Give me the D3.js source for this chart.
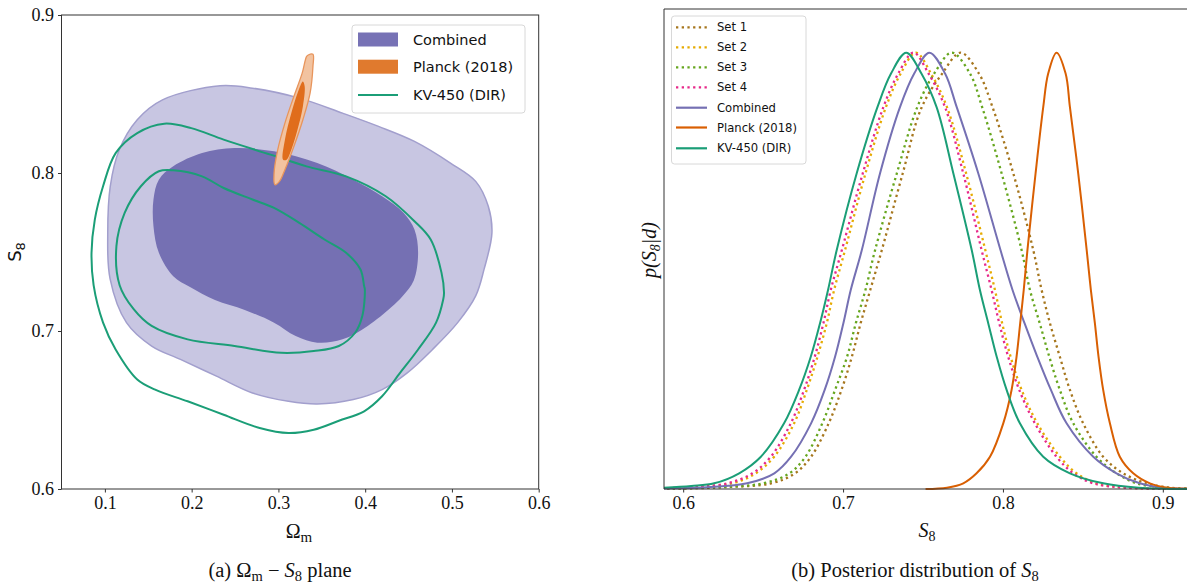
<!DOCTYPE html>
<html>
<head>
<meta charset="utf-8">
<script src="https://cdn.jsdelivr.net/npm/d3@7"></script>
<style>
  body { margin: 0; background: #fff; }
  svg { display: block; }
  .tick text { font-family: "Liberation Serif", "DejaVu Serif", serif; font-size: 18px; fill: #111; }
  .tick line { stroke: #333; }
  .leg { font-family: "DejaVu Sans", sans-serif; fill: #111; }
  .serif { font-family: "Liberation Serif", "DejaVu Serif", serif; fill: #111; }
</style>
</head>
<body>
<svg id="viz" width="1187" height="585"></svg>
<script>
// ---- panel (a): contours in the Omega_m - S8 plane, [Omega_m, S8] ----
var combined_outer = [[0.2328,0.8552],[0.1664,0.8463],[0.1373,0.8337],[0.1166,0.8147],[0.1062,0.7916],
  [0.1033,0.7621],[0.1060,0.7330],[0.1249,0.7053],[0.1539,0.6905],[0.1871,0.6820],
  [0.2286,0.6714],[0.2701,0.6608],[0.3116,0.6555],[0.3448,0.6538],[0.3863,0.6566],[0.4195,0.6629],
  [0.4485,0.6735],[0.4776,0.6883],[0.5066,0.7053],[0.5274,0.7222],[0.5370,0.7390],[0.5461,0.7621],
  [0.5419,0.7789],[0.5274,0.7947],[0.4983,0.8063],[0.4568,0.8200],[0.4154,0.8295],[0.3739,0.8379],
  [0.3241,0.8474],[0.2701,0.8537]];
var combined_inner = [[0.2494,0.8158],[0.2120,0.8126],[0.1788,0.8042],[0.1622,0.7958],[0.1560,0.7832],
  [0.1560,0.7663],[0.1622,0.7495],[0.1788,0.7347],[0.1981,0.7278],[0.2269,0.7196],[0.2612,0.7133],
  [0.2950,0.7053],[0.3199,0.6968],[0.3448,0.6926],[0.3739,0.6947],[0.4029,0.7032],[0.4300,0.7150],
  [0.4430,0.7220],[0.4560,0.7320],[0.4610,0.7495],[0.4568,0.7642],[0.4444,0.7747],[0.4195,0.7853],
  [0.3863,0.7958],[0.3448,0.8063],[0.2950,0.8137]];
var kv_outer = [[0.1685,0.8312],[0.1373,0.8253],[0.1124,0.8126],[0.0979,0.7916],[0.0884,0.7705],
  [0.0846,0.7495],[0.0870,0.7290],[0.0979,0.7053],[0.1124,0.6883],[0.1373,0.6693],
  [0.1580,0.6629],[0.1954,0.6555],[0.2369,0.6470],[0.2784,0.6386],[0.3116,0.6354],[0.3407,0.6375],
  [0.3697,0.6432],[0.3988,0.6492],[0.4195,0.6587],[0.4402,0.6735],[0.4610,0.6883],[0.4817,0.7053],
  [0.4900,0.7201],[0.4909,0.7242],[0.4880,0.7368],[0.4755,0.7579],[0.4568,0.7695],[0.4237,0.7853],
  [0.3780,0.7979],[0.3324,0.8042],[0.2909,0.8116],[0.2369,0.8211],[0.1996,0.8284]];
var kv_inner = [[0.1788,0.8017],[0.1622,0.8011],[0.1415,0.7916],[0.1228,0.7747],[0.1133,0.7537],
  [0.1170,0.7290],[0.1332,0.7138],[0.1539,0.7032],[0.1954,0.6947],[0.2494,0.6905],
  [0.3033,0.6862],[0.3407,0.6873],[0.3697,0.6905],[0.3884,0.6989],[0.3967,0.7095],[0.3996,0.7265],
  [0.3988,0.7284],[0.3946,0.7389],[0.3780,0.7495],[0.3531,0.7579],[0.3241,0.7684],[0.2950,0.7779],
  [0.2701,0.7832],[0.2369,0.7905],[0.2120,0.7979]];
var planck_outer = [[0.2959,0.7926],[0.2950,0.8000],[0.2992,0.8147],[0.3075,0.8316],[0.3178,0.8484],
  [0.3274,0.8632],[0.3324,0.8737],[0.3344,0.8747],[0.3398,0.8752],[0.3398,0.8674],[0.3365,0.8505],
  [0.3282,0.8337],[0.3178,0.8168],[0.3075,0.8021],[0.3012,0.7947]];
var planck_inner = [[0.3054,0.8084],[0.3075,0.8210],[0.3149,0.8379],[0.3220,0.8505],[0.3282,0.8579],
  [0.3303,0.8547],[0.3282,0.8421],[0.3220,0.8274],[0.3149,0.8147],[0.3095,0.8084]];

// ---- panel (b): posterior of S8 (peak normalised to 1), [S8, p] ----
var set1 = [[0.590,0.0005],[0.625,0.004],[0.655,0.013],[0.670,0.036],[0.680,0.074],[0.691,0.1505],
  [0.699,0.227],[0.7055,0.303],[0.711,0.380],[0.717,0.456],[0.7242,0.547],[0.7373,0.723],[0.7492,0.875],
  [0.7620,0.952],[0.7735,1.0],[0.7850,0.952],[0.7935,0.875],[0.8065,0.723],[0.8190,0.547],[0.8242,0.456],
  [0.8294,0.380],[0.8356,0.303],[0.8419,0.227],[0.8502,0.1505],[0.8627,0.074],[0.8752,0.036],
  [0.8898,0.013],[0.905,0.003],[0.917,0.001]];
var set2 = [[0.590,0.0015],[0.610,0.005],[0.6308,0.013],[0.6454,0.036],[0.6569,0.074],[0.6694,0.1505],
  [0.6773,0.227],[0.6840,0.303],[0.6898,0.380],[0.6944,0.456],[0.7012,0.547],[0.7140,0.723],[0.7268,0.875],
  [0.7360,0.952],[0.7455,1.0],[0.7550,0.952],[0.7650,0.875],[0.7770,0.723],[0.7890,0.547],[0.7950,0.456],
  [0.7995,0.380],[0.8048,0.303],[0.8117,0.227],[0.8215,0.1505],[0.8356,0.074],[0.8460,0.036],
  [0.8585,0.013],[0.879,0.003],[0.917,0.0]];
var set3 = [[0.590,0.0008],[0.620,0.004],[0.650,0.013],[0.6665,0.036],[0.6765,0.074],[0.6870,0.1505],
  [0.6950,0.227],[0.7025,0.303],[0.7080,0.380],[0.7140,0.456],[0.7200,0.547],[0.7336,0.723],[0.7464,0.875],
  [0.7570,0.952],[0.7680,1.0],[0.7794,0.952],[0.7870,0.875],[0.7992,0.723],[0.8117,0.547],[0.8169,0.456],
  [0.8230,0.380],[0.8290,0.303],[0.8356,0.227],[0.8440,0.1505],[0.8585,0.074],[0.8710,0.036],
  [0.8835,0.013],[0.900,0.003],[0.917,0.0005]];
var set4 = [[0.590,0.002],[0.607,0.005],[0.6277,0.013],[0.6433,0.036],[0.6548,0.074],[0.6673,0.1505],
  [0.6756,0.227],[0.6823,0.303],[0.6877,0.380],[0.6923,0.456],[0.6992,0.547],[0.7123,0.723],[0.7252,0.875],
  [0.7345,0.952],[0.7440,1.0],[0.7535,0.952],[0.7638,0.875],[0.7752,0.723],[0.7867,0.547],[0.7929,0.456],
  [0.7977,0.380],[0.8033,0.303],[0.8102,0.227],[0.8200,0.1505],[0.8335,0.074],[0.8440,0.036],
  [0.8565,0.013],[0.877,0.003],[0.917,0.0]];
var combined = [[0.588,0.001],[0.615,0.004],[0.640,0.013],[0.657,0.036],[0.6675,0.074],[0.6800,0.1505],
  [0.6885,0.227],[0.6950,0.303],[0.7002,0.380],[0.7048,0.456],[0.7117,0.547],[0.7231,0.723],[0.7356,0.875],
  [0.7445,0.952],[0.7540,1.0],[0.7638,0.952],[0.7711,0.875],[0.7846,0.723],[0.7985,0.547],[0.8060,0.456],
  [0.8135,0.380],[0.8215,0.303],[0.8300,0.227],[0.8398,0.1505],[0.8565,0.074],[0.8710,0.036],
  [0.8856,0.013],[0.900,0.003],[0.917,0.0005]];
var planck = [[0.7516,0.0],[0.7650,0.003],[0.7752,0.013],[0.7835,0.036],[0.7919,0.074],[0.8002,0.1505],
  [0.8054,0.227],[0.8085,0.303],[0.8108,0.380],[0.8130,0.456],[0.8153,0.547],[0.8204,0.723],[0.8252,0.875],
  [0.8283,0.952],[0.8335,1.0],[0.8392,0.952],[0.8419,0.875],[0.8471,0.723],[0.8524,0.547],[0.8550,0.456],
  [0.8575,0.380],[0.8598,0.303],[0.8627,0.227],[0.8669,0.1505],[0.8731,0.074],[0.8815,0.036],
  [0.8919,0.013],[0.903,0.003],[0.917,0.0005]];
var kv450 = [[0.588,0.003],[0.605,0.007],[0.6194,0.013],[0.6350,0.036],[0.6486,0.074],[0.6631,0.1505],
  [0.6725,0.227],[0.6798,0.303],[0.6856,0.380],[0.6906,0.456],[0.6960,0.547],[0.7085,0.723],[0.7215,0.875],
  [0.7300,0.952],[0.7395,1.0],[0.7490,0.952],[0.7585,0.875],[0.7690,0.723],[0.7805,0.547],[0.7856,0.456],
  [0.7908,0.380],[0.7961,0.303],[0.8023,0.227],[0.8106,0.1505],[0.8252,0.074],[0.8419,0.036],
  [0.8627,0.013],[0.885,0.003],[0.917,0.0]];

var xticksL = [0.1, 0.2, 0.3, 0.4, 0.5, 0.6];
var yticksL = [0.6, 0.7, 0.8, 0.9];
var xticksR = [0.6, 0.7, 0.8, 0.9];

var svg = d3.select("#viz");

// ===== left panel =====
var xL = d3.scaleLinear().domain([0.05, 0.6]).range([61.5, 538.7]);
var yL = d3.scaleLinear().domain([0.6, 0.9]).range([489, 15]);

var contour = d3.line()
  .x(function(d) { return xL(d[0]); })
  .y(function(d) { return yL(d[1]); })
  .curve(d3.curveCatmullRomClosed.alpha(0.5));

var gL = svg.append("g");
gL.append("path").attr("d", contour(combined_outer))
  .style("fill", "#c8c6e2").style("stroke", "#a29fcd").style("stroke-width", 1.5);
gL.append("path").attr("d", contour(combined_inner))
  .style("fill", "#7570b3").style("stroke", "none");
gL.append("path").attr("d", contour(kv_outer))
  .style("fill", "none").style("stroke", "#1b9e77").style("stroke-width", 2);
gL.append("path").attr("d", contour(kv_inner))
  .style("fill", "none").style("stroke", "#1b9e77").style("stroke-width", 2);
gL.append("path").attr("d", contour(planck_outer))
  .style("fill", "#f2c3a0").style("stroke", "#e8955c").style("stroke-width", 1.3);
gL.append("path").attr("d", contour(planck_inner))
  .style("fill", "#e06d1c").style("stroke", "none");

gL.append("rect").attr("x", 61.5).attr("y", 15).attr("width", 538.7 - 61.5).attr("height", 489 - 15)
  .style("fill", "none").style("stroke", "#333").style("stroke-width", 1);

var axL = gL.append("g").attr("transform", "translate(0,489)")
  .call(d3.axisBottom(xL).tickValues(xticksL).tickFormat(d3.format(".1f")).tickSize(3.5).tickPadding(4));
var ayL = gL.append("g").attr("transform", "translate(61.5,0)")
  .call(d3.axisLeft(yL).tickValues(yticksL).tickFormat(d3.format(".1f")).tickSize(3.5).tickPadding(4));
axL.select(".domain").remove();
ayL.select(".domain").remove();

gL.append("text").attr("class", "serif").attr("x", 299).attr("y", 538).attr("text-anchor", "middle")
  .style("font-size", "20px")
  .html('Ω<tspan dy="4" style="font-size:15px">m</tspan>');
gL.append("text").attr("class", "leg").attr("transform", "translate(21,252) rotate(-90)")
  .attr("text-anchor", "middle").style("font-size", "18px")
  .html('S<tspan dy="4" style="font-size:13px">8</tspan>');

// left legend
var legL = gL.append("g");
legL.append("rect").attr("x", 352).attr("y", 25).attr("width", 173).attr("height", 88).attr("rx", 3)
  .style("fill", "#fff").style("fill-opacity", 0.8).style("stroke", "#d8d8d8");
var legLItems = [["Combined", "patch", "#7772b5", 39.5], ["Planck (2018)", "patch", "#e07a2e", 66.7], ["KV-450 (DIR)", "line", "#1b9e77", 95]];
legLItems.forEach(function(it) {
  if (it[1] == "patch") {
    legL.append("rect").attr("x", 358).attr("y", it[3] - 7).attr("width", 40).attr("height", 14).style("fill", it[2]);
  } else {
    legL.append("line").attr("x1", 358).attr("x2", 398).attr("y1", it[3]).attr("y2", it[3])
      .style("stroke", it[2]).style("stroke-width", 2);
  }
  legL.append("text").attr("class", "leg").attr("x", 413).attr("y", it[3]).attr("dy", "0.36em")
    .style("font-size", "14.5px").text(it[0]);
});

// caption a
svg.append("text").attr("class", "serif").attr("x", 280).attr("y", 577).attr("text-anchor", "middle")
  .style("font-size", "20.5px")
  .html('(a) Ω<tspan dy="3.5" style="font-size:14.5px">m</tspan><tspan dy="-3.5"> − </tspan><tspan font-style="italic">S</tspan><tspan dy="3.5" style="font-size:14.5px">8</tspan><tspan dy="-3.5"> plane</tspan>');

// ===== right panel =====
var xR = d3.scaleLinear().domain([0.588, 0.917]).range([664, 1190]);
var yR = d3.scaleLinear().domain([0, 1.1]).range([489, 9]);

var pdf = d3.line()
  .x(function(d) { return xR(d[0]); })
  .y(function(d) { return yR(d[1]); })
  .curve(d3.curveCatmullRom.alpha(0.5));

var gR = svg.append("g");
gR.append("clipPath").attr("id", "clipR").append("rect")
  .attr("x", 664).attr("y", 0).attr("width", 530).attr("height", 490);

var series = [
  {name: "Set 1", data: set1, color: "#a6761d", dotted: true},
  {name: "Set 2", data: set2, color: "#e6ab02", dotted: true},
  {name: "Set 3", data: set3, color: "#66a61e", dotted: true},
  {name: "Set 4", data: set4, color: "#e7298a", dotted: true},
  {name: "Combined", data: combined, color: "#7570b3", dotted: false},
  {name: "Planck (2018)", data: planck, color: "#d95f02", dotted: false},
  {name: "KV-450 (DIR)", data: kv450, color: "#1b9e77", dotted: false}
];

var curves = gR.append("g").attr("clip-path", "url(#clipR)");
series.forEach(function(s) {
  curves.append("path").attr("d", pdf(s.data))
    .style("fill", "none").style("stroke", s.color)
    .style("stroke-width", s.dotted ? 2.3 : 2)
    .style("stroke-dasharray", s.dotted ? "2.3,3.4" : null);
});

// spines
gR.append("line").attr("x1", 664).attr("x2", 664).attr("y1", 9).attr("y2", 489).style("stroke", "#333");
gR.append("line").attr("x1", 664).attr("x2", 1190).attr("y1", 9).attr("y2", 9).style("stroke", "#333");
gR.append("line").attr("x1", 664).attr("x2", 1190).attr("y1", 489).attr("y2", 489).style("stroke", "#333");

var axR = gR.append("g").attr("transform", "translate(0,489)")
  .call(d3.axisBottom(xR).tickValues(xticksR).tickFormat(d3.format(".1f")).tickSize(3.5).tickPadding(4));
axR.select(".domain").remove();

gR.append("text").attr("class", "serif").attr("x", 927).attr("y", 537).attr("text-anchor", "middle")
  .style("font-size", "20px")
  .html('<tspan font-style="italic">S</tspan><tspan dy="4" style="font-size:14px">8</tspan>');
gR.append("text").attr("class", "serif").attr("transform", "translate(656,250) rotate(-90)")
  .attr("text-anchor", "middle").style("font-size", "20px").style("font-style", "italic")
  .html('p(S<tspan dy="4" style="font-size:14px">8</tspan><tspan dy="-4">|d)</tspan>');

// right legend
var legR = gR.append("g");
legR.append("rect").attr("x", 671.5).attr("y", 16).attr("width", 134.5).attr("height", 148).attr("rx", 3)
  .style("fill", "#fff").style("fill-opacity", 0.8).style("stroke", "#d8d8d8");
var legRy = [27.3, 47.3, 67.3, 87.3, 107.7, 127.5, 148.3];
series.forEach(function(s, i) {
  legR.append("line").attr("x1", 676).attr("x2", 707).attr("y1", legRy[i]).attr("y2", legRy[i])
    .style("stroke", s.color).style("stroke-width", s.dotted ? 2.3 : 2.2)
    .style("stroke-dasharray", s.dotted ? "2.3,3.4" : null);
  legR.append("text").attr("class", "leg").attr("x", 717).attr("y", legRy[i]).attr("dy", "0.36em")
    .style("font-size", "11.6px").text(s.name);
});

// caption b
svg.append("text").attr("class", "serif").attr("x", 915).attr("y", 577).attr("text-anchor", "middle")
  .style("font-size", "20.5px")
  .html('(b) Posterior distribution of <tspan font-style="italic">S</tspan><tspan dy="3.5" style="font-size:14.5px">8</tspan>');
</script>
</body>
</html>
